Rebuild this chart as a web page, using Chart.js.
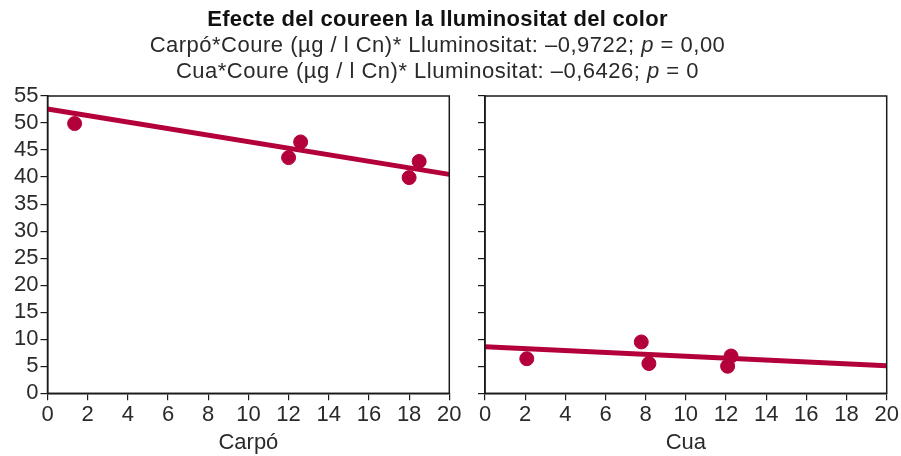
<!DOCTYPE html>
<html lang="ca">
<head>
<meta charset="utf-8">
<title>Efecte del coure en la lluminositat del color</title>
<script src="https://cdn.jsdelivr.net/npm/chart.js@4.4.1/dist/chart.umd.min.js"></script>
<style>
  html, body { margin: 0; padding: 0; background: #fff; }
  #wrap { position: relative; width: 901px; height: 456px; overflow: hidden; }
  #wrap canvas { position: absolute; left: 0; top: 0; }
  #heading {
    position: absolute; left: 0; top: 6px; width: 875px; text-align: center;
    font-family: "Liberation Sans", Arial, sans-serif; color: #2a2a2a;
    font-size: 22px; line-height: 26px; letter-spacing: 0.5px;
  }
  #heading b { font-weight: bold; color: #111; letter-spacing: 0.3px; }
</style>
</head>
<body>
<div id="wrap">
  <canvas id="carpoChart" width="901" height="456"></canvas>
  <canvas id="cuaChart" width="901" height="456"></canvas>
  <div id="heading">
    <b>Efecte del coureen la lluminositat del color</b><br>
    Carpó*Coure (µg / l Cn)* Lluminositat: –0,9722; <i>p</i> = 0,00<br>
    Cua*Coure (µg / l Cn)* Lluminositat: –0,6426; <i>p</i> = 0
  </div>
</div>
<script>
// Carpó: measured points and fitted line
const carpoX = [1.35, 12.0, 12.6, 18.0, 18.5];
const carpoY = [49.9, 43.6, 46.5, 39.9, 42.9];
const carpoFitX = [0, 20];
const carpoFitY = [52.6, 40.5];

// Cua: measured points and fitted line
const cuaX = [2.08, 7.78, 8.16, 12.08, 12.25];
const cuaY = [6.4, 9.5, 5.5, 5.0, 6.9];
const cuaFitX = [0, 20];
const cuaFitY = [8.6, 5.1];

const xTicks = [0, 2, 4, 6, 8, 10, 12, 14, 16, 18, 20];
const yTicks = [0, 5, 10, 15, 20, 25, 30, 35, 40, 45, 50, 55];

const RED = "#b4003a";
const INK = "#1a1a1a";
const TEXT = "#2a2a2a";
const FONT = { family: "'Liberation Sans', Arial, sans-serif", size: 22 };

function pairs(xs, ys) {
    return xs.map((x, i) => ({ x: x, y: ys[i] }));
}

// draws the closed box round the plot area
const frame = {
    id: "frame",
    afterDraw(chart) {
        const a = chart.chartArea;
        const ctx = chart.ctx;
        ctx.save();
        ctx.strokeStyle = INK;
        ctx.lineWidth = 1.5;
        ctx.strokeRect(a.left, a.top, a.right - a.left, a.bottom - a.top);
        ctx.restore();
    }
};

function makeChart(id, xs, ys, fitX, fitY, title, pad, showY) {
    const ctx = document.getElementById(id).getContext("2d");
    return new Chart(ctx, {
        type: "scatter",
        data: {
            datasets: [
                {
                    type: "line",
                    data: pairs(fitX, fitY),
                    borderColor: RED,
                    borderWidth: 5,
                    pointRadius: 0,
                    order: 1,
                },
                {
                    data: pairs(xs, ys),
                    backgroundColor: RED,
                    borderColor: RED,
                    pointRadius: 7,
                    order: 0,
                },
            ],
        },
        options: {
            responsive: false,
            animation: false,
            events: [],
            layout: { padding: pad },
            plugins: { legend: { display: false }, tooltip: { enabled: false } },
            scales: {
                x: {
                    type: "linear",
                    min: 0, max: 20,
                    afterBuildTicks: (s) => { s.ticks = xTicks.map(v => ({ value: v })); },
                    afterFit: (s) => { s.height = 62.7; },
                    grid: { drawOnChartArea: false, tickLength: 7, color: INK, lineWidth: 1.2 },
                    border: { color: INK, width: 1.5 },
                    ticks: { color: TEXT, font: FONT, padding: 1, maxRotation: 0, autoSkip: false },
                    title: { display: true, text: title, color: TEXT, font: FONT, padding: { top: 0, bottom: 0 } },
                },
                y: {
                    type: "linear",
                    min: 0, max: 55,
                    afterBuildTicks: (s) => { s.ticks = yTicks.map(v => ({ value: v })); },
                    afterFit: (s) => { s.width = showY ? 47.5 : 7; },
                    grid: { drawOnChartArea: false, tickLength: 7, color: INK, lineWidth: 1.2 },
                    border: { color: INK, width: 1.5 },
                    ticks: { display: showY, color: TEXT, font: FONT, padding: 2, autoSkip: false },
                },
            },
        },
        plugins: [frame],
    });
}

makeChart("carpoChart", carpoX, carpoY, carpoFitX, carpoFitY, "Carpó",
    { left: 0, right: 451.7, top: 96, bottom: 0 }, true);
makeChart("cuaChart", cuaX, cuaY, cuaFitX, cuaFitY, "Cua",
    { left: 478, right: 14.3, top: 96, bottom: 0 }, false);
</script>
</body>
</html>
